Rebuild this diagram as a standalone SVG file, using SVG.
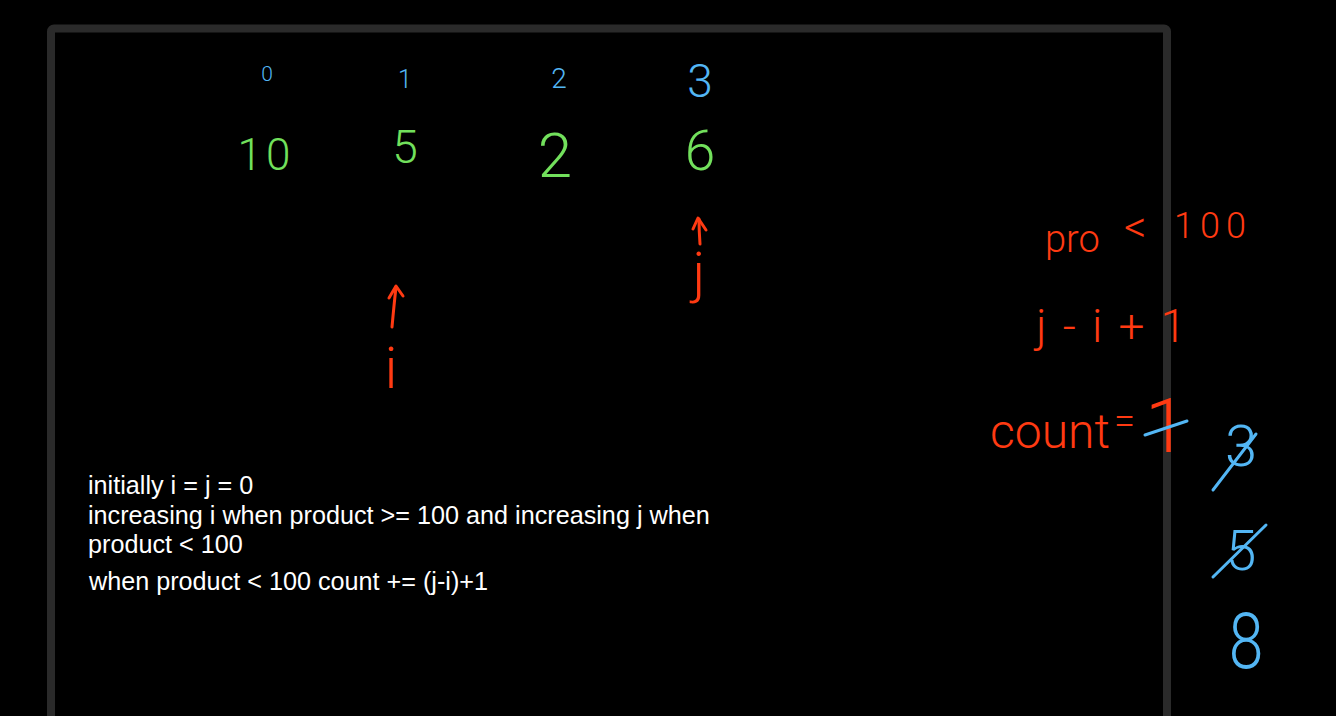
<svg xmlns="http://www.w3.org/2000/svg" width="1336" height="716" viewBox="0 0 1336 716">
<style>
.hw{font-family:Roboto,"DejaVu Sans",sans-serif;font-weight:300}
.blue{fill:#53b6f4}
.green{fill:#72e05c}
.red{fill:#ff3a12}
.note{font-family:"Liberation Sans",Arial,sans-serif;font-size:25.2px;fill:#ffffff}
.stroke{fill:none;stroke-width:3;stroke-linecap:round;stroke-linejoin:round}
</style>
<rect x="0" y="0" width="1336" height="716" fill="#000000"/>
<g id="frame">
<rect x="51" y="28.5" width="1116" height="720" rx="3" fill="none" stroke="#2a2a2a" stroke-width="8"/>
</g>
<g id="indices" class="hw blue" text-anchor="middle">
<text x="267" y="81" font-size="21">0</text>
<text x="405" y="88" font-size="25">1</text>
<text x="559" y="88" font-size="28">2</text>
<text x="700" y="97" font-size="46">3</text>
</g>
<g id="values" class="hw green" text-anchor="middle">
<text x="266" y="170" font-size="44" letter-spacing="4">10</text>
<text x="405" y="163" font-size="46">5</text>
<text x="555" y="177" font-size="62">2</text>
<text x="700" y="170" font-size="55">6</text>
</g>
<g id="connectors" class="stroke" stroke="#ff3a12">
<path d="M392 327 Q394 305 396 287"/>
<path d="M389 298 L396 286 L403 296"/>
<path d="M700 244 Q699 230 699 219"/>
<path d="M693 229 L698 218 L706 230"/>
</g>
<g id="pointer-i" class="hw red" text-anchor="middle">
<text x="391" y="388" font-size="58">i</text>
</g>
<g id="pointer-j" class="hw red" text-anchor="middle">
<text x="699" y="292" font-size="56">j</text>
</g>
<g id="notes" class="note">
<text x="88" y="494">initially i = j = 0</text>
<text x="88" y="524">increasing i when product &gt;= 100 and increasing j when</text>
<text x="88" y="553">product &lt; 100</text>
<text x="89" y="590">when product &lt; 100 count += (j-i)+1</text>
</g>
<g id="condition" class="hw red">
<text x="1045" y="252" font-size="38">pro</text>
<text x="1124" y="242" font-size="44">&lt;</text>
<text x="1174" y="238" font-size="36" letter-spacing="6">100</text>
</g>
<g id="formula" class="hw red">
<text x="1036" y="342" font-size="46" textLength="150">j - i + 1</text>
</g>
<g id="count" class="hw red">
<text x="990" y="448" font-size="48">count</text>
<text x="1114" y="434" font-size="38">=</text>
<text x="1145" y="452" font-size="76">1</text>
</g>
<g id="count-values" class="hw blue" text-anchor="middle">
<text x="1241" y="466" font-size="58">3</text>
<text x="1241" y="570" font-size="55">5</text>
<text x="1246" y="668" font-size="78" transform="translate(1246 0) scale(0.8 1) translate(-1246 0)">8</text>
</g>
<g id="strikes" class="stroke" stroke="#53b6f4">
<path d="M1145 435 L1187 421"/>
<path d="M1213 490 L1256 434"/>
<path d="M1213 577 L1266 525"/>
</g>
</svg>
